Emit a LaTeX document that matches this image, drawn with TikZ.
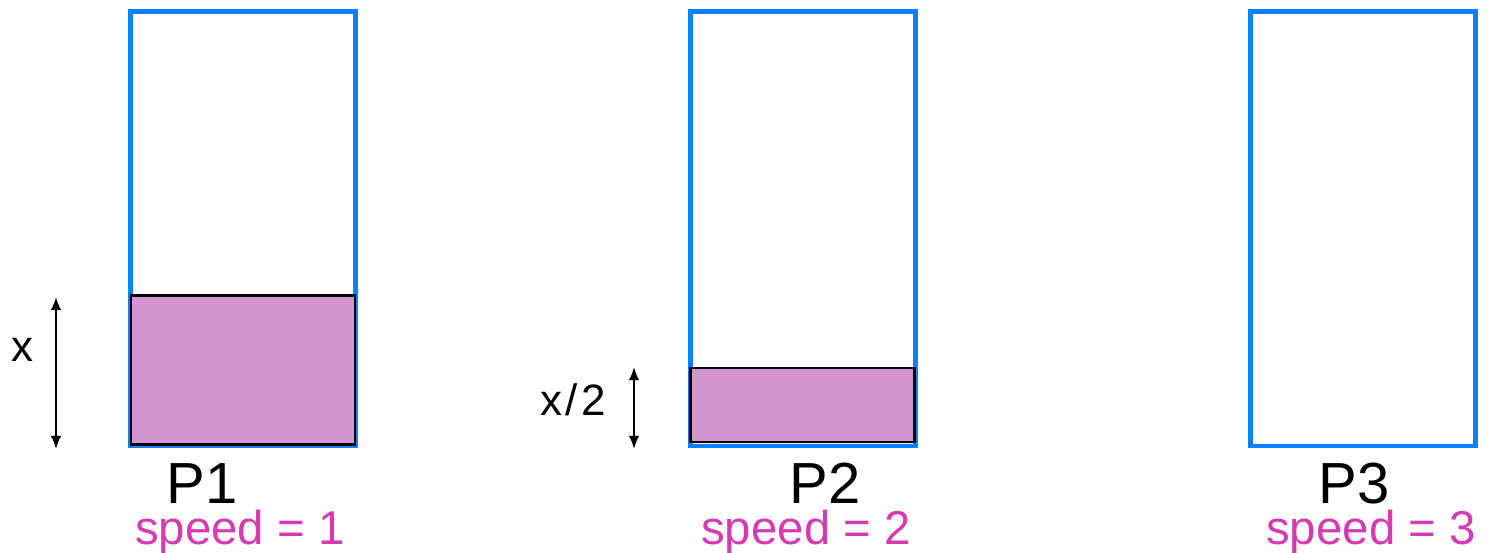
\documentclass[tikz,border=0pt]{standalone}
\usepackage{fontspec}
\setmainfont{Liberation Sans}
\usetikzlibrary{arrows.meta,positioning}
\definecolor{binblue}{RGB}{10,130,255}
\definecolor{loadfill}{RGB}{212,148,208}
\definecolor{speedpink}{RGB}{214,58,176}

\begin{document}
\begin{tikzpicture}[x=0.02cm,y=-0.02cm,
  bin/.style={draw=binblue,line width=2.8pt},
  load/.style={draw=black,line width=1.3pt,fill=loadfill},
  dim/.style={{Latex[length=7.5pt,width=6pt]}-{Latex[length=7.5pt,width=6pt]},line width=1.1pt},
  proc/.style={anchor=base,inner sep=0pt,font=\fontsize{33}{33}\selectfont},
  speed/.style={anchor=base,inner sep=0pt,text=speedpink,font=\fontsize{27}{27}\selectfont},
  dimlabel/.style={anchor=base,inner sep=0pt,font=\fontsize{25}{25}\selectfont}]
  \useasboundingbox (0,0) rectangle (1494,553);
  % processors
  \draw[bin] (130.5,11.5) rectangle (355.5,446);
  \draw[bin] (690.5,11.5) rectangle (915.5,446);
  \draw[bin] (1250.5,11.5) rectangle (1475.5,446);
  % work already queued
  \draw[load] (131,295.5) rectangle (355,444.5);
  \draw[load] (690.5,368) rectangle (914.5,442);
  % heights
  \coordinate (xtop) at (56,297);
  \coordinate (xbot) at (56,449);
  \draw[dim] (xtop) -- (xbot);
  \node[dimlabel] (xlab) at (22,362) {x};
  \coordinate (htop) at (634,367);
  \coordinate (hbot) at (634,449);
  \draw[dim] (htop) -- (hbot);
  \node[dimlabel] (hlab) at (573,416) {x\kern2pt/\kern2pt2};
  % labels
  \node[proc] (p1) at (202,503) {P1};
  \node[proc] (p2) at (825,503) {P2};
  \node[proc] (p3) at (1354,503) {P3};
  \node[speed] (s1) at (240,544) {speed = 1};
  \node[speed] (s2) at (806,544) {speed = 2};
  \node[speed] (s3) at (1371,544) {speed = 3};
\end{tikzpicture}
\end{document}
